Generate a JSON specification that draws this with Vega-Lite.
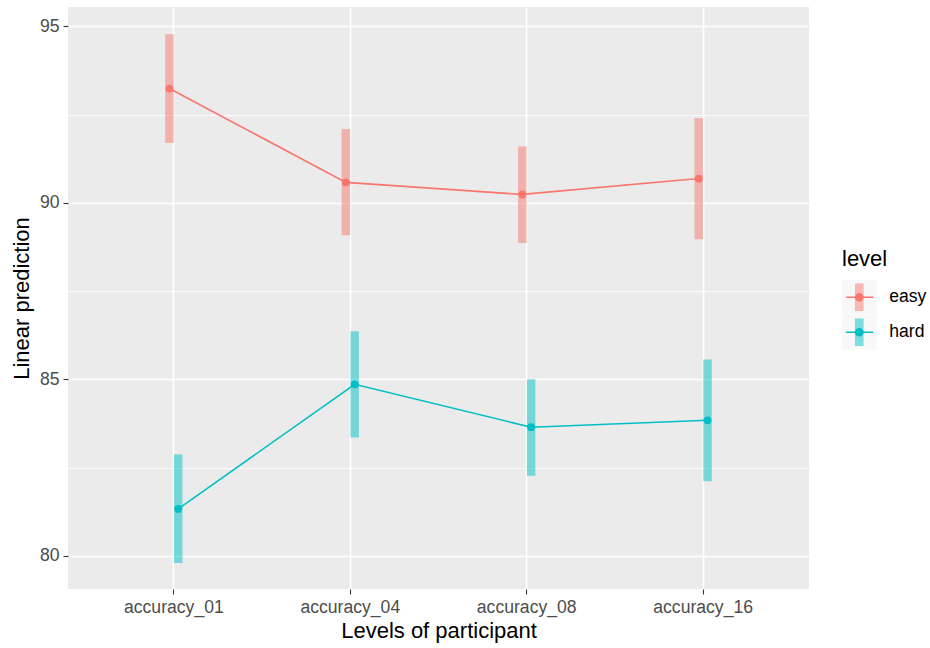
{
  "$schema": "https://vega.github.io/schema/vega-lite/v6.json",
  "autosize": {"type": "none"},
  "padding": {"left": 68, "top": 7, "right": 121, "bottom": 59},
  "width": 741,
  "height": 582,
  "background": "white",
  "data": {"values": [
    {"participant": "accuracy_01", "level": "easy", "emmean": 93.24, "lower": 91.70, "upper": 94.78},
    {"participant": "accuracy_04", "level": "easy", "emmean": 90.58, "lower": 89.08, "upper": 92.09},
    {"participant": "accuracy_08", "level": "easy", "emmean": 90.24, "lower": 88.86, "upper": 91.60},
    {"participant": "accuracy_16", "level": "easy", "emmean": 90.69, "lower": 88.97, "upper": 92.40},
    {"participant": "accuracy_01", "level": "hard", "emmean": 81.33, "lower": 79.80, "upper": 82.87},
    {"participant": "accuracy_04", "level": "hard", "emmean": 84.86, "lower": 83.35, "upper": 86.36},
    {"participant": "accuracy_08", "level": "hard", "emmean": 83.645, "lower": 82.27, "upper": 85.00},
    {"participant": "accuracy_16", "level": "hard", "emmean": 83.84, "lower": 82.11, "upper": 85.56}
  ]},
  "encoding": {
    "x": {
      "field": "participant", "type": "nominal",
      "scale": {"type": "band", "paddingInner": 0, "paddingOuter": 0.1},
      "axis": {"title": "Levels of participant", "labelAngle": 0, "grid": true, "gridColor": "white", "gridWidth": 1.6, "bandPosition": 0.5, "labelPadding": 4, "titlePadding": 5}
    },
    "xOffset": {
      "field": "level", "type": "nominal",
      "scale": {"type": "band", "range": [79.4, 97.0], "paddingInner": 0, "paddingOuter": 0}
    }
  },
  "layer": [
    {
      "mark": {"type": "rule", "strokeWidth": 8.5},
      "encoding": {
        "y": {"field": "lower", "type": "quantitative",
          "scale": {"domain": [79.06, 95.55], "nice": false, "zero": false},
          "axis": {"title": "Linear prediction", "values": [80, 85, 90, 95], "grid": true, "gridColor": "white", "gridWidth": 1.6, "titlePadding": 6, "labelPadding": 4}},
        "y2": {"field": "upper"},
        "stroke": {"field": "level", "type": "nominal",
          "scale": {"domain": ["easy", "hard"], "range": ["#F8766D", "#00BFC4"]},
          "legend": {"orient": "none", "legendX": 774, "legendY": 242, "title": "level", "zindex": 2, "clipHeight": 34.5,
            "symbolType": "M0,-0.8V0.8", "symbolSize": 1190, "symbolStrokeWidth": 8.7, "symbolOpacity": 0.5, "symbolOffset": -4.75, "labelOffset": 8, "rowPadding": 0}},
        "opacity": {"field": "level", "type": "nominal",
          "scale": {"domain": {"unionWith": ["hard"]}, "range": [0.5, 0.5]},
          "legend": {"orient": "none", "legendX": 774, "legendY": 273, "title": null, "zindex": 1, "clipHeight": 34.5, "labelExpr": "''",
            "symbolType": "M-1,-1H1V1H-1Z", "symbolSize": 1190, "symbolStrokeWidth": 0, "symbolOffset": -0.25, "rowPadding": 0,
            "encode": {"symbols": {"update": {"fill": {"value": "#F2F2F2"}, "stroke": {"value": "transparent"}, "opacity": {"value": 1}, "fillOpacity": {"value": 1}}}}}}
      }
    },
    {
      "mark": {"type": "line", "strokeWidth": 1.6},
      "encoding": {
        "y": {"field": "emmean", "type": "quantitative",
          "axis": {"orient": "left", "values": [82.5, 87.5, 92.5], "grid": true, "gridColor": "white", "gridWidth": 0.8, "labels": false, "ticks": false, "domain": false, "title": null}},
        "color": {"field": "level", "type": "nominal",
          "scale": {"range": ["#F8766D", "#00BFC4"]},
          "legend": {"orient": "none", "legendX": 774, "legendY": 273, "title": null, "zindex": 3, "clipHeight": 34.5, "labelExpr": "''",
            "symbolType": "M-0.79,0H0.79", "symbolSize": 1190, "symbolStrokeWidth": 1.6, "symbolOffset": -0.75, "rowPadding": 0}}
      }
    },
    {
      "mark": {"type": "point", "filled": true, "size": 60, "opacity": 1},
      "encoding": {
        "y": {"field": "emmean", "type": "quantitative", "axis": null},
        "fill": {"field": "level", "type": "nominal",
          "scale": {"domain": {"unionWith": ["easy"]}, "range": ["#F8766D", "#00BFC4"]},
          "legend": {"orient": "none", "legendX": 774, "legendY": 273, "title": null, "zindex": 4, "clipHeight": 34.5, "labelExpr": "''",
            "symbolType": "M0.25,0A0.25,0.25 0 1 1 -0.25,0A0.25,0.25 0 1 1 0.25,0Z", "symbolSize": 1190, "symbolStrokeWidth": 0, "symbolOpacity": 1, "symbolOffset": -0.25, "rowPadding": 0}}
      }
    }
  ],
  "resolve": {"axis": {"y": "independent"}},
  "config": {
    "font": "Liberation Sans",
    "view": {"fill": "#EBEBEB", "stroke": null},
    "axis": {
      "domain": false,
      "labelColor": "#4D4D4D", "labelFontSize": 17.6,
      "tickColor": "#333333", "tickSize": 5, "tickWidth": 1.1,
      "titleColor": "black", "titleFontSize": 22, "titleFontWeight": "normal"
    },
    "legend": {
      "titleFontSize": 22, "titleFontWeight": "normal", "titleColor": "black",
      "labelFontSize": 17.6, "labelColor": "black", "titlePadding": 9, "padding": 0
    }
  }
}
